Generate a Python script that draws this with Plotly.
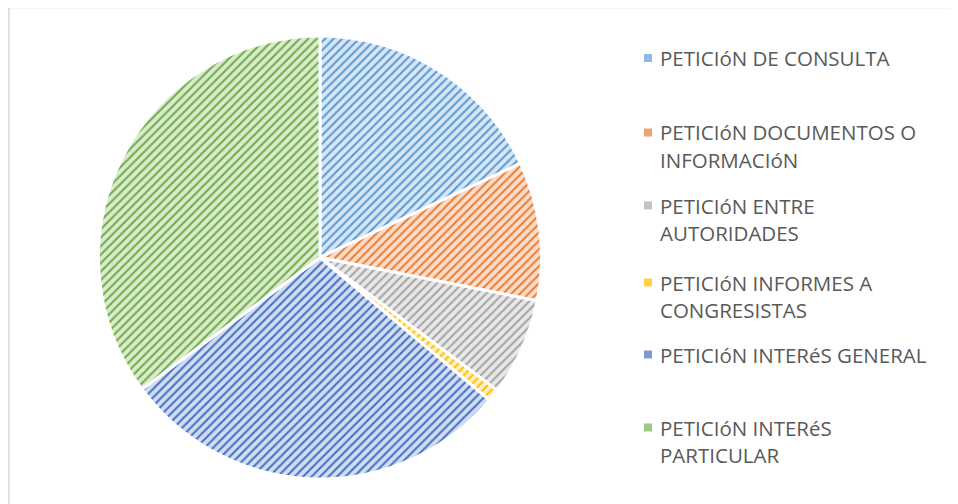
import plotly.graph_objects as go

OFF = 8            # page body margin
W, H = 950, 496    # figure size (page 958x504 minus body margin)

categories = [
    "PETICIóN DE CONSULTA",
    "PETICIóN DOCUMENTOS O INFORMACIóN",
    "PETICIóN ENTRE AUTORIDADES",
    "PETICIóN INFORMES A CONGRESISTAS",
    "PETICIóN INTERéS GENERAL",
    "PETICIóN INTERéS PARTICULAR",
]
values = [18.0, 10.1, 7.1, 0.9, 28.7, 35.1]
legend_lines = [
    ["PETICIóN DE CONSULTA"],
    ["PETICIóN DOCUMENTOS O", "INFORMACIóN"],
    ["PETICIóN ENTRE", "AUTORIDADES"],
    ["PETICIóN INFORMES A", "CONGRESISTAS"],
    ["PETICIóN INTERéS GENERAL"],
    ["PETICIóN INTERéS", "PARTICULAR"],
]
fg_colors = ["#5B9BD5", "#ED7D31", "#A5A5A5", "#FFC000", "#4472C4", "#70AD47"]
bg_colors = ["#D9E7F5", "#FBDDCD", "#E8E8E8", "#FFF1C4", "#D3DDF2", "#DBEBD0"]
mid_colors = ["#8DBAE4", "#F2A273", "#C3C3C3", "#FFD24D", "#7C9BD6", "#9ECB83"]


def px(x):
    return (x - OFF) / W


def py(y):
    return 1 - (y - OFF) / H


fig = go.Figure()
cx, cy, r = 320, 257.5, 221.5
fig.add_trace(go.Pie(
    labels=categories,
    values=values,
    sort=False,
    direction="clockwise",
    rotation=0,
    textinfo="none",
    hoverinfo="label+percent",
    showlegend=False,
    domain=dict(x=[px(cx - r), px(cx + r)], y=[py(cy + r), py(cy - r)]),
    marker=dict(
        colors=bg_colors,
        line=dict(color="white", width=3),
        pattern=dict(shape="/", fgcolor=fg_colors, bgcolor=bg_colors, size=6, solidity=0.35),
    ),
))

# legend drawn manually
first_line_y = [58, 132.5, 205.5, 282.5, 354.5, 427.5]
line_gap = 27.5
annotations = []
shapes = []
for i, lines in enumerate(legend_lines):
    y0 = first_line_y[i]
    shapes.append(dict(type="rect", xref="paper", yref="paper",
                       x0=px(644), x1=px(652), y0=py(y0 + 4), y1=py(y0 - 4),
                       fillcolor=mid_colors[i], line=dict(width=0)))
    for j, t in enumerate(lines):
        yc = y0 + j * line_gap
        annotations.append(dict(text=t, xref="paper", yref="paper", x=px(658), y=py(yc),
                                xanchor="left", yanchor="middle", showarrow=False,
                                font=dict(family="Open Sans", size=20.5, color="#595959")))

# chart border
shapes.append(dict(type="path", xref="paper", yref="paper",
                   path=f"M {px(9)} 0 L {px(9)} {py(7.5)} L 1 {py(7.5)}",
                   line=dict(color="#D9D9D9", width=1.5)))

fig.update_layout(
    width=W, height=H,
    margin=dict(l=0, r=0, t=0, b=0),
    paper_bgcolor="white",
    plot_bgcolor="white",
    annotations=annotations,
    shapes=shapes,
)
fig.write_html("out.html")
